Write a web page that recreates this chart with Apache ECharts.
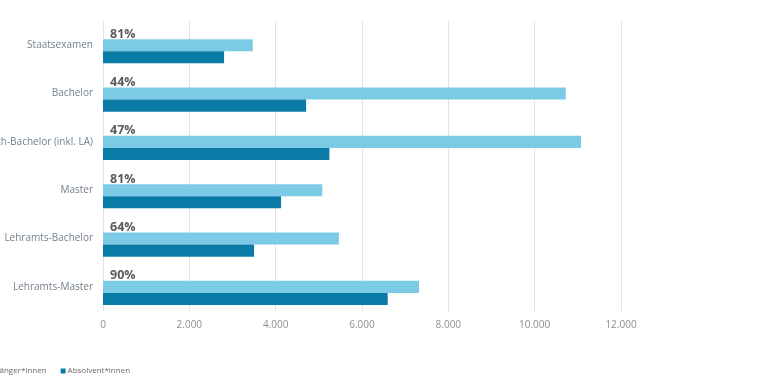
<!DOCTYPE html>
<html><head><meta charset="utf-8">
<script src="https://cdn.jsdelivr.net/npm/echarts@6/dist/echarts.min.js"></script>
<style>html,body{margin:0;padding:0;background:#fff;overflow:hidden;width:761px;height:381px;position:relative}
#c{position:absolute;left:-60px;top:0;width:821px;height:381px}</style>
</head><body><div id="c"></div>
<script>
const categories = ['Staatsexamen','Bachelor','Fach-Bachelor (inkl. LA)','Master','Lehramts-Bachelor','Lehramts-Master'];
const anfaenger = [3470, 10720, 11075, 5080, 5465, 7320];
const absolventen = [2805, 4705, 5245, 4125, 3500, 6595];
const quoten = ['81%','44%','47%','81%','64%','90%'];
const xTicks = [0, 2000, 4000, 6000, 8000, 10000, 12000];

const chart = echarts.init(document.getElementById('c'), null, {renderer:'canvas'});
const fmt = v => v === 0 ? '0' : String(v).replace(/\B(?=(\d{3})+(?!\d))/g, '.');
chart.setOption({
  animation:false,
  textStyle:{fontFamily:'Open Sans'},
  grid:{left:163, right:140, top:21, bottom:70, containLabel:false},
  legend:{
    data:['Studienanfänger*innen','Absolvent*innen'],
    left:7, top:362, itemWidth:5, itemHeight:5, itemGap:14, icon:'rect',
    textStyle:{fontSize:8, color:'#6a6a6a', fontFamily:'Open Sans', padding:[0,0,0,-3]}
  },
  xAxis:{
    type:'value', min:xTicks[0], max:xTicks[xTicks.length-1], interval:2000,
    axisLine:{show:false}, axisTick:{show:false},
    splitLine:{show:true, lineStyle:{color:'#e3e3e3', width:1}},
    axisLabel:{color:'#8a8f94', fontSize:10, margin:9, formatter:fmt}
  },
  yAxis:{
    type:'category', data:categories, inverse:true,
    axisLine:{show:false}, axisTick:{show:false},
    axisLabel:{color:'#74808c', fontSize:10, margin:10}
  },
  series:[
    {name:'Quote', type:'bar', data:quoten.map(()=>0), barGap:'0%', barCategoryGap:'25%',
     itemStyle:{color:'rgba(0,0,0,0)'}, silent:true,
     label:{show:true, position:'right', distance:7, offset:[0,1], fontSize:12.5, fontWeight:'bold', color:'#5a5a5a',
       formatter:p=>quoten[p.dataIndex]}},
    {name:'Studienanfänger*innen', type:'bar', data:anfaenger, barGap:'0%', barCategoryGap:'25%',
     itemStyle:{color:'#7ccbe6'}},
    {name:'Absolvent*innen', type:'bar', data:absolventen, barGap:'0%', barCategoryGap:'25%',
     itemStyle:{color:'#0a7aa6'}}
  ]
});
</script></body></html>
